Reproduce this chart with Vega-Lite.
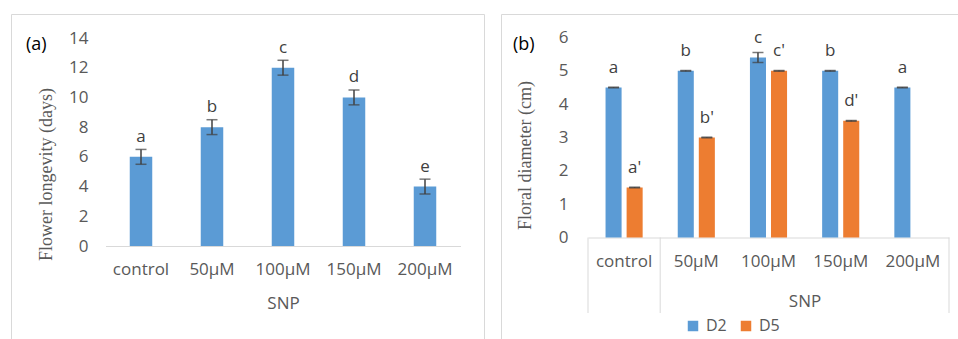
{
  "$schema": "https://vega.github.io/schema/vega-lite/v6.json",
  "padding": {"left": 10, "top": 13, "right": 0, "bottom": 0},
  "spacing": 15,
  "background": "white",
  "config": {
    "view": {"stroke": "#d9d9d9", "strokeWidth": 1},
    "font": "Open Sans",
    "axis": {"labelFont": "Open Sans", "labelFontSize": 17, "labelColor": "#595959", "titleFont": "Open Sans", "titleFontSize": 17, "titleFontWeight": "normal", "titleColor": "#595959", "grid": false}
  },
  "datasets": {
    "a": [
      {"treat": "control", "value": 6, "lo": 5.5, "hi": 6.5, "letter": "a"},
      {"treat": "50µM", "value": 8, "lo": 7.5, "hi": 8.5, "letter": "b"},
      {"treat": "100µM", "value": 12, "lo": 11.5, "hi": 12.5, "letter": "c"},
      {"treat": "150µM", "value": 10, "lo": 9.5, "hi": 10.5, "letter": "d"},
      {"treat": "200µM", "value": 4, "lo": 3.5, "hi": 4.5, "letter": "e"}
    ],
    "b": [
      {"treat": "control", "day": "D2", "value": 4.5, "lo": 4.49, "hi": 4.51, "letter": "a"},
      {"treat": "50µM", "day": "D2", "value": 5.0, "lo": 4.99, "hi": 5.01, "letter": "b"},
      {"treat": "100µM", "day": "D2", "value": 5.4, "lo": 5.25, "hi": 5.55, "letter": "c"},
      {"treat": "150µM", "day": "D2", "value": 5.0, "lo": 4.99, "hi": 5.01, "letter": "b"},
      {"treat": "200µM", "day": "D2", "value": 4.5, "lo": 4.49, "hi": 4.51, "letter": "a"},
      {"treat": "control", "day": "D5", "value": 1.5, "lo": 1.49, "hi": 1.51, "letter": "a'"},
      {"treat": "50µM", "day": "D5", "value": 3.0, "lo": 2.99, "hi": 3.01, "letter": "b'"},
      {"treat": "100µM", "day": "D5", "value": 5.0, "lo": 4.99, "hi": 5.01, "letter": "c'"},
      {"treat": "150µM", "day": "D5", "value": 3.5, "lo": 3.49, "hi": 3.51, "letter": "d'"}
    ],
    "sepStart": [{"treat": "control"}, {"treat": "50µM"}],
    "sepEnd": [{"treat": "200µM"}]
  },
  "hconcat": [
    {
      "width": 473,
      "height": 326,
      "title": {"text": "(a)", "anchor": "start", "frame": "group", "orient": "top", "offset": -40, "dx": 15, "fontSize": 18, "fontWeight": "normal", "color": "black", "font": "Open Sans"},
      "data": {"name": "a"},
      "encoding": {
        "x": {
          "field": "treat", "type": "nominal",
          "sort": ["control", "50µM", "100µM", "150µM", "200µM"],
          "scale": {"range": [94.5, 449.5], "paddingInner": 0.683, "paddingOuter": 0.3415},
          "axis": {"orient": "bottom", "offset": -94, "domain": true, "domainColor": "#d9d9d9", "ticks": false, "labelPadding": 15, "labelAngle": 0, "title": "SNP", "titleY": 57, "titleBaseline": "middle"}
        }
      },
      "layer": [
        {
          "mark": {"type": "bar", "color": "#5B9BD5"},
          "encoding": {
            "y": {
              "field": "value", "type": "quantitative",
              "scale": {"domain": [0, 14], "range": [232, 24], "nice": false, "zero": false},
              "axis": {"values": [0, 2, 4, 6, 8, 10, 12, 14], "format": "d", "domain": false, "ticks": false, "offset": -80, "labelPadding": 3, "title": "Flower longevity (days)", "titleFont": "Liberation Serif", "titleFontSize": 18, "titleX": -45, "titleY": 160, "titleAngle": -90, "titleBaseline": "middle", "titleAlign": "center"}
            }
          }
        },
        {
          "mark": {"type": "rule", "color": "#404040", "strokeWidth": 1.5},
          "encoding": {"y": {"field": "lo", "type": "quantitative"}, "y2": {"field": "hi"}}
        },
        {
          "mark": {"type": "tick", "color": "#404040", "thickness": 1.5, "size": 11, "orient": "horizontal"},
          "encoding": {"y": {"field": "lo", "type": "quantitative"}}
        },
        {
          "mark": {"type": "tick", "color": "#404040", "thickness": 1.5, "size": 11, "orient": "horizontal"},
          "encoding": {"y": {"field": "hi", "type": "quantitative"}}
        },
        {
          "mark": {"type": "text", "dy": -20, "baseline": "middle", "fontSize": 17, "color": "#404040", "font": "Open Sans"},
          "encoding": {"y": {"field": "value", "type": "quantitative"}, "text": {"field": "letter"}}
        }
      ]
    },
    {
      "width": 460,
      "height": 326,
      "title": {"text": "(b)", "anchor": "start", "frame": "group", "orient": "top", "offset": -40, "dx": 12, "fontSize": 18, "fontWeight": "normal", "color": "black", "font": "Open Sans"},
      "encoding": {
        "x": {
          "field": "treat", "type": "nominal",
          "sort": ["control", "50µM", "100µM", "150µM", "200µM"],
          "scale": {"range": [87, 448], "paddingInner": 0, "paddingOuter": 0},
          "axis": {"orient": "bottom", "offset": -102.5, "domain": true, "domainColor": "#d9d9d9", "ticks": false, "labelPadding": 16, "labelAngle": 0, "title": "SNP", "titleX": 303.5, "titleY": 63.5, "titleBaseline": "middle"}
        }
      },
      "layer": [
        {
          "data": {"name": "b"},
          "mark": {"type": "bar"},
          "encoding": {
            "xOffset": {"field": "day", "type": "nominal", "scale": {"paddingInner": 0.238, "paddingOuter": 0.833}},
            "y": {
              "field": "value", "type": "quantitative",
              "scale": {"domain": [0, 6], "range": [223.5, 23.5], "nice": false, "zero": false},
              "axis": {"values": [0, 1, 2, 3, 4, 5, 6], "format": "d", "domain": false, "ticks": false, "offset": -70, "labelPadding": 3, "title": "Floral diameter (cm)", "titleFont": "Liberation Serif", "titleFontSize": 18, "titleX": -46, "titleY": 141, "titleAngle": -90, "titleBaseline": "middle", "titleAlign": "center"}
            },
            "color": {
              "field": "day", "type": "nominal",
              "scale": {"domain": ["D2", "D5"], "range": ["#5B9BD5", "#ED7D31"]},
              "legend": {"orient": "none", "legendX": 674, "legendY": 304, "direction": "horizontal", "title": null, "symbolType": "square", "symbolSize": 110, "symbolStrokeWidth": 0, "labelFont": "Open Sans", "labelFontSize": 16, "labelColor": "#595959", "labelOffset": 5, "columnPadding": 11}
            }
          }
        },
        {
          "data": {"name": "b"},
          "mark": {"type": "rule", "color": "#404040", "strokeWidth": 1.5},
          "encoding": {"xOffset": {"field": "day", "type": "nominal"}, "y": {"field": "lo", "type": "quantitative"}, "y2": {"field": "hi"}}
        },
        {
          "data": {"name": "b"},
          "mark": {"type": "tick", "color": "#404040", "thickness": 1.5, "size": 11, "orient": "horizontal"},
          "encoding": {"xOffset": {"field": "day", "type": "nominal"}, "y": {"field": "lo", "type": "quantitative"}}
        },
        {
          "data": {"name": "b"},
          "mark": {"type": "tick", "color": "#404040", "thickness": 1.5, "size": 11, "orient": "horizontal"},
          "encoding": {"xOffset": {"field": "day", "type": "nominal"}, "y": {"field": "hi", "type": "quantitative"}}
        },
        {
          "data": {"name": "b"},
          "mark": {"type": "text", "dy": -20, "baseline": "middle", "fontSize": 17, "color": "#404040", "font": "Open Sans"},
          "encoding": {"xOffset": {"field": "day", "type": "nominal"}, "y": {"field": "value", "type": "quantitative"}, "text": {"field": "letter"}}
        },
        {
          "data": {"name": "sepStart"},
          "mark": {"type": "rule", "color": "#d9d9d9", "strokeWidth": 1},
          "encoding": {"x": {"field": "treat", "type": "nominal", "bandPosition": 0}, "y": {"datum": 0}, "y2": {"datum": -2.265}}
        },
        {
          "data": {"name": "sepEnd"},
          "mark": {"type": "rule", "color": "#d9d9d9", "strokeWidth": 1},
          "encoding": {"x": {"field": "treat", "type": "nominal", "bandPosition": 1}, "y": {"datum": 0}, "y2": {"datum": -2.265}}
        }
      ]
    }
  ]
}
